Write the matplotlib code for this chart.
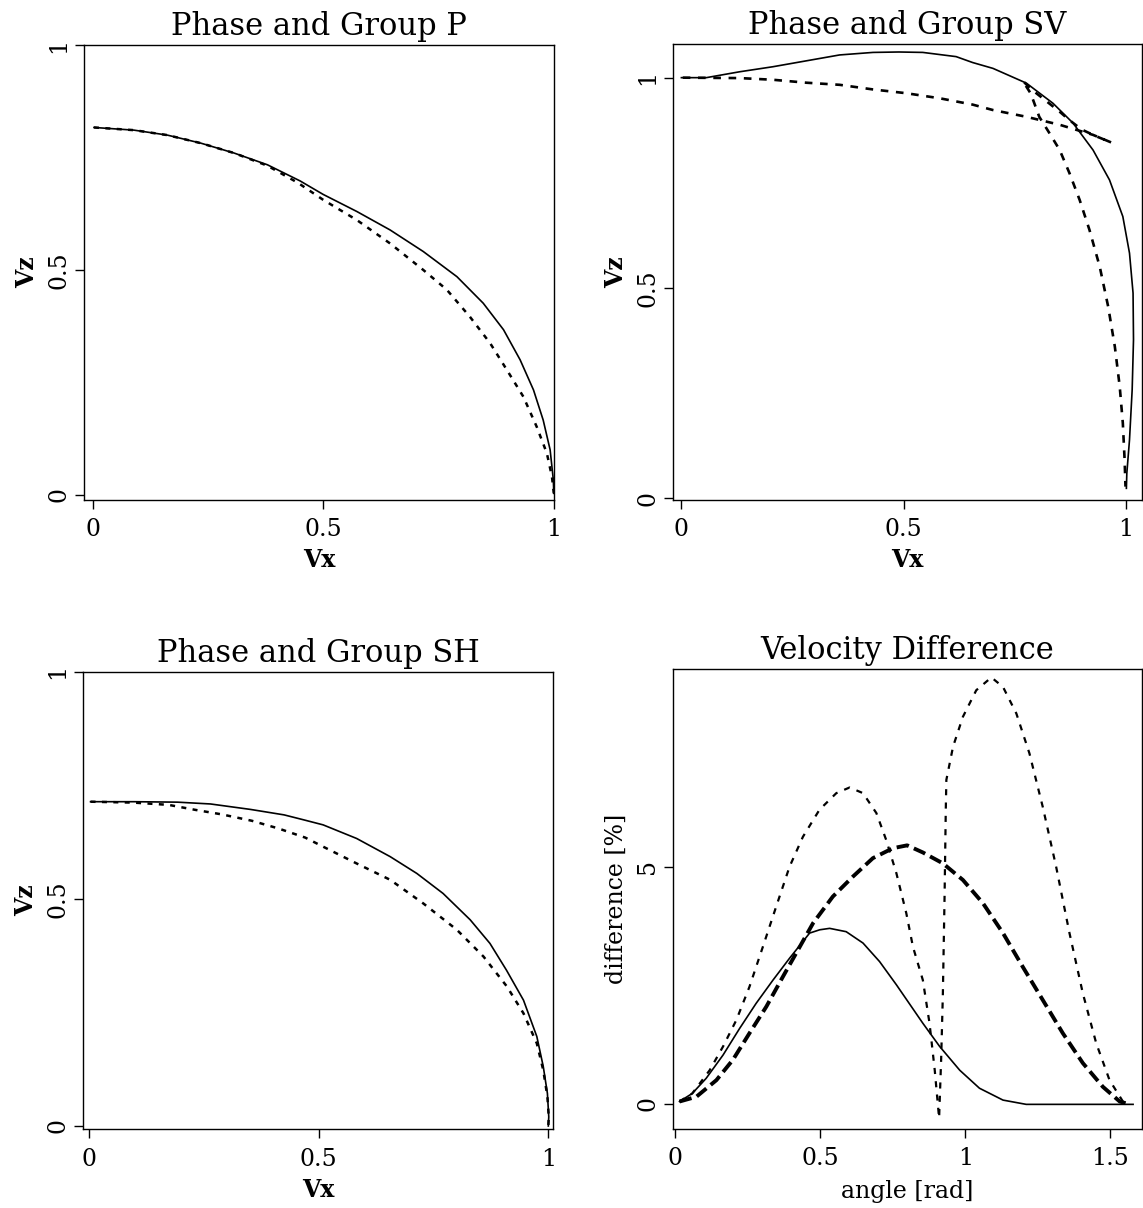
import numpy as np
import matplotlib
matplotlib.use("Agg")
import matplotlib.pyplot as plt

plt.rcParams['font.family'] = ['DejaVu Serif']
plt.rcParams['lines.scale_dashes'] = False

# ---------------- data ----------------
# P wave: solid and dotted curves (Vx, Vz)
p_solid_x = [0.003, 0.090, 0.162, 0.235, 0.307, 0.379, 0.450, 0.500, 0.573, 0.645, 0.717, 0.790,
             0.847, 0.891, 0.927, 0.956, 0.977, 0.992, 0.999, 1.0]
p_solid_z = [0.817, 0.811, 0.800, 0.782, 0.760, 0.734, 0.698, 0.668, 0.630, 0.589, 0.541, 0.485,
             0.426, 0.367, 0.300, 0.233, 0.166, 0.100, 0.033, 0.003]
p_dot_x = [0.003, 0.090, 0.162, 0.235, 0.307, 0.379, 0.445, 0.500, 0.573, 0.645, 0.717, 0.768,
           0.818, 0.862, 0.898, 0.934, 0.963, 0.985, 0.996, 1.0]
p_dot_z = [0.817, 0.811, 0.800, 0.782, 0.760, 0.732, 0.694, 0.656, 0.611, 0.559, 0.500, 0.456,
           0.396, 0.337, 0.278, 0.218, 0.151, 0.092, 0.040, 0.003]

# SV wave
sv_solid_x = [0.0, 0.056, 0.131, 0.206, 0.281, 0.356, 0.431, 0.489, 0.543, 0.618, 0.655, 0.701,
              0.776, 0.836, 0.881, 0.926, 0.963, 0.993, 1.008, 1.016, 1.017, 1.014, 1.008, 1.002, 1.001]
sv_solid_z = [1.0, 1.0, 1.014, 1.026, 1.040, 1.054, 1.060, 1.061, 1.060, 1.050, 1.036, 1.022,
              0.987, 0.939, 0.892, 0.828, 0.757, 0.670, 0.583, 0.488, 0.377, 0.258, 0.139, 0.060, 0.024]
sv_dot_x = [0.003, 0.131, 0.206, 0.281, 0.356, 0.431, 0.506, 0.581, 0.655, 0.701, 0.776, 0.851,
            0.926, 0.967,
            0.930, 0.900, 0.873, 0.851, 0.820, 0.790, 0.768,
            0.786, 0.805, 0.828, 0.851, 0.873, 0.896, 0.918, 0.941, 0.960, 0.975, 0.986, 0.993,
            0.997, 0.999]
sv_dot_z = [1.0, 0.999, 0.995, 0.988, 0.983, 0.972, 0.963, 0.951, 0.936, 0.923, 0.907, 0.888,
            0.864, 0.846,
            0.862, 0.877, 0.899, 0.919, 0.945, 0.970, 0.992,
            0.962, 0.907, 0.868, 0.828, 0.773, 0.709, 0.638, 0.551, 0.456, 0.361, 0.266, 0.179,
            0.092, 0.028]

# SH wave
sh_solid_x = [0.004, 0.098, 0.193, 0.265, 0.352, 0.425, 0.468, 0.510, 0.583, 0.656, 0.714, 0.771,
              0.830, 0.873, 0.909, 0.946, 0.975, 0.989, 0.998, 1.001, 1.0]
sh_solid_z = [0.714, 0.714, 0.713, 0.709, 0.697, 0.685, 0.674, 0.663, 0.633, 0.593, 0.556, 0.512,
              0.454, 0.402, 0.343, 0.277, 0.197, 0.131, 0.072, 0.020, 0.0]
sh_dot_x = [0.004, 0.098, 0.174, 0.232, 0.290, 0.355, 0.413, 0.471, 0.510, 0.583, 0.656, 0.728,
            0.801, 0.859, 0.910, 0.946, 0.975, 0.989, 0.998, 1.001, 1.0]
sh_dot_z = [0.714, 0.712, 0.707, 0.696, 0.686, 0.672, 0.655, 0.635, 0.615, 0.578, 0.542, 0.490,
            0.432, 0.373, 0.307, 0.248, 0.182, 0.123, 0.065, 0.020, 0.0]

# Velocity difference [%] vs angle [rad]
d_p_ang = [0.016, 0.060, 0.108, 0.166, 0.223, 0.280, 0.338, 0.395, 0.464, 0.499, 0.533, 0.590,
           0.648, 0.705, 0.763, 0.854, 0.912, 0.981, 1.049, 1.130, 1.210, 1.400, 1.578]
d_p_val = [0.05, 0.22, 0.54, 1.03, 1.59, 2.12, 2.61, 3.07, 3.60, 3.67, 3.70, 3.63,
           3.39, 3.00, 2.51, 1.70, 1.21, 0.71, 0.33, 0.08, -0.01, -0.01, -0.01]
d_sh_ang = [0.016, 0.074, 0.143, 0.200, 0.257, 0.315, 0.372, 0.430, 0.476, 0.544, 0.613, 0.682,
            0.751, 0.800, 0.854, 0.923, 0.992, 1.061, 1.130, 1.198, 1.267, 1.336, 1.405, 1.474,
            1.532, 1.566]
d_sh_val = [0.05, 0.15, 0.50, 0.93, 1.49, 2.05, 2.68, 3.31, 3.81, 4.37, 4.79, 5.18,
            5.39, 5.45, 5.30, 5.07, 4.72, 4.23, 3.60, 2.89, 2.19, 1.49, 0.86, 0.36,
            0.05, -0.01]
d_sv_ang = [0.016, 0.060, 0.120, 0.166, 0.212, 0.257, 0.303, 0.349, 0.395, 0.441, 0.498, 0.556,
            0.602, 0.648, 0.694, 0.728, 0.763, 0.797, 0.820, 0.854, 0.877, 0.895, 0.910,
            0.917, 0.923, 0.929, 0.933, 0.935, 0.958, 0.992, 1.038, 1.090, 1.130, 1.176, 1.221,
            1.267, 1.313, 1.359, 1.405, 1.451, 1.497, 1.543]
d_sv_val = [0.05, 0.22, 0.71, 1.21, 1.77, 2.47, 3.31, 4.16, 5.00, 5.63, 6.20, 6.55,
            6.67, 6.55, 6.13, 5.56, 4.86, 4.02, 3.31, 2.61, 1.70, 0.71, -0.30,
            0.93, 2.33, 4.44, 6.20, 6.83, 7.53, 8.16, 8.72, 8.99, 8.79, 8.23, 7.39,
            6.26, 5.00, 3.60, 2.33, 1.28, 0.50, 0.05]

titles = ["Phase and Group P", "Phase and Group SV", "Phase and Group SH", "Velocity Difference"]
unit_ticks = [0, 0.5, 1]
unit_labels = ["0", "0.5", "1"]
ang_ticks = [0, 0.5, 1, 1.5]
ang_labels = ["0", "0.5", "1", "1.5"]
diff_ticks = [0, 5]
diff_labels = ["0", "5"]

# ---------------- figure ----------------
W, H = 1143, 1208
fig = plt.figure(figsize=(W / 100, H / 100), dpi=100)

def add_ax(l, r, t, b):
    return fig.add_axes([l / W, 1 - b / H, (r - l) / W, (b - t) / H])

ax1 = add_ax(84.3, 553.8, 45.2, 500.1)
ax2 = add_ax(673.4, 1141.5, 44.0, 500.1)
ax3 = add_ax(83.2, 553.0, 671.8, 1129.4)
ax4 = add_ax(673.4, 1141.5, 669.1, 1128.7)

solid_kw = dict(color='black', lw=1.2, solid_joinstyle='round')
dot_kw = dict(color='black', lw=1.8, linestyle=(0, (3.6, 4.6)))

ax1.plot(p_solid_x, p_solid_z, **solid_kw)
ax1.plot(p_dot_x, p_dot_z, **dot_kw)
ax2.plot(sv_solid_x, sv_solid_z, **solid_kw)
ax2.plot(sv_dot_x, sv_dot_z, color='black', lw=1.9, linestyle=(0, (5.5, 5.5)))
ax3.plot(sh_solid_x, sh_solid_z, **solid_kw)
ax3.plot(sh_dot_x, sh_dot_z, **dot_kw)

ax4.plot(d_p_ang, d_p_val, **solid_kw)
ax4.plot(d_sh_ang, d_sh_val, color='black', lw=2.8, linestyle=(0, (9.0, 4.0)))
ax4.plot(d_sv_ang, d_sv_val, color='black', lw=1.6, linestyle=(0, (4.4, 5.2)))

ax1.set_xlim(-0.018, 1.0); ax1.set_ylim(-0.012, 1.0)
ax2.set_xlim(-0.018, 1.035); ax2.set_ylim(-0.004, 1.08)
ax3.set_xlim(-0.012, 1.0102); ax3.set_ylim(-0.0075, 1.0)
ax4.set_xlim(-0.005, 1.607); ax4.set_ylim(-0.523, 9.165)

tick_fs = 17
for ax, title in zip([ax1, ax2, ax3, ax4], titles):
    ax.set_title(title, fontsize=22, pad=7)
    for s in ax.spines.values():
        s.set_linewidth(1.0)
    ax.tick_params(direction='out', length=6.2, width=1.0, labelsize=tick_fs, pad=4,
                   top=False, right=False)
    ax.tick_params(axis='x', pad=7)

for ax in [ax1, ax2, ax3]:
    ax.set_xticks(unit_ticks, unit_labels)
    ax.set_yticks(unit_ticks, unit_labels)
    ax.set_xlabel("Vx", fontsize=17, fontweight='bold', labelpad=5)
    ax.set_ylabel("Vz", fontsize=17, fontweight='bold', labelpad=6)

ax4.set_xticks(ang_ticks, ang_labels)
ax4.set_yticks(diff_ticks, diff_labels)
ax4.set_xlabel("angle [rad]", fontsize=17, labelpad=7)
ax4.set_ylabel("difference [%]", fontsize=17, labelpad=6)

for ax in [ax1, ax2, ax3, ax4]:
    for lab in ax.get_yticklabels():
        lab.set_rotation(90)
        lab.set_va('center')

fig.savefig("out.png", dpi=100)
